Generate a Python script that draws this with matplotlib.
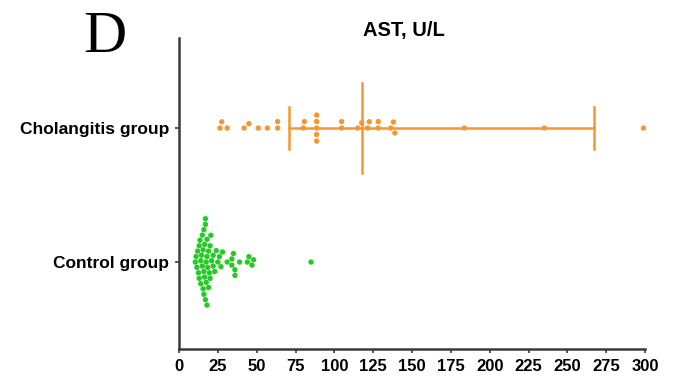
import numpy as np
import matplotlib
matplotlib.use("Agg")
import matplotlib.pyplot as plt

# data
groups = ["Control group", "Cholangitis group"]
control = [10.5, 11, 11.5, 12, 12.5, 13, 13, 13.5, 14, 14, 14.5, 15, 15, 15.5, 15.5,
           16, 16, 16, 16.5, 16.5, 17, 17, 17, 17.5, 17.5, 18, 18, 18, 18.5, 19, 19,
           19.5, 20, 20, 20.5, 21,
           22, 22, 23, 24, 25, 26, 27, 28, 31, 34, 34, 35, 36, 36, 39, 44, 45,
           47, 48, 85]
cholangitis = [26.4, 27.5, 31, 41.9, 45, 51, 56.9, 63.5, 63.5, 80, 80.7,
               88.6, 88.6, 88.6, 88.6, 88.6, 104.7, 104.7, 115, 117.6, 121.5, 122.5,
               128.3, 128.3, 136.3, 138, 139, 183.7, 235.2, 299]
chol_center = 118
chol_low = 71
chol_high = 267
xticks = list(range(0, 301, 25))

orange = "#F7962F"
green = "#22CC22"

plt.rcParams["font.family"] = ["Liberation Sans", "DejaVu Sans"]

fig = plt.figure(figsize=(6.76, 3.81), dpi=100)
ax = fig.add_axes([179 / 676, 1 - 349 / 381, 466 / 676, 311 / 381])
ax.set_xlim(0, 300)
ax.set_ylim(-0.649, 1.672)

# pixel scales for the swarm layout
px_x = 466 / 300
px_y = 134.0


def swarm(values, diam):
    order = np.argsort(values, kind="stable")
    placed = []
    offs = np.zeros(len(values))
    for i in order:
        x = values[i] * px_x
        cands = [0.0]
        for (px, py) in placed:
            dx = x - px
            if abs(dx) < diam:
                h = np.sqrt(diam ** 2 - dx ** 2)
                cands += [py + h, py - h]
        cands.sort(key=abs)
        for c in cands:
            ok = all((x - px) ** 2 + (c - py) ** 2 >= diam ** 2 - 1e-6 for px, py in placed)
            if ok:
                break
        placed.append((x, c))
        offs[i] = c / px_y
    return offs


for pos, vals, col, d in [(0, control, green, 5.6), (1, cholangitis, orange, 6.5)]:
    vals = np.array(vals, dtype=float)
    y = pos + swarm(vals, d)
    ax.scatter(vals, y, s=15, color=col, edgecolors="none", zorder=3, clip_on=False)

# orange centre line and error bars
ax.plot([chol_low, chol_high], [1, 1], color=orange, lw=1.8, zorder=2)
ax.plot([chol_center, chol_center], [1 - 45 / px_y, 1 + 45 / px_y], color=orange, lw=1.8, zorder=2)
for v in (chol_low, chol_high):
    ax.plot([v, v], [1 - 21 / px_y, 1 + 21 / px_y], color=orange, lw=1.8, zorder=2)

ax.set_yticks([0, 1])
ax.set_yticklabels(groups, fontsize=12.5, fontweight="bold")
ax.set_xticks(xticks)
ax.set_xticklabels([str(t) for t in xticks], fontsize=12, fontweight="bold")

for s in ["top", "right"]:
    ax.spines[s].set_visible(False)
for s in ["left", "bottom"]:
    ax.spines[s].set_linewidth(1.8)
    ax.spines[s].set_color("#3a3a3a")
ax.tick_params(axis="both", length=3, width=1.2, color="#3a3a3a", pad=4)

fig.text(404 / 676, 1 - 36 / 381, "AST, U/L", ha="center", va="baseline",
         fontsize=14.5, fontweight="bold")
fig.text(83 / 676, 1 - 52 / 381, "D", ha="left", va="baseline",
         fontsize=43, family="Liberation Serif")

fig.savefig("out.png", dpi=100)
